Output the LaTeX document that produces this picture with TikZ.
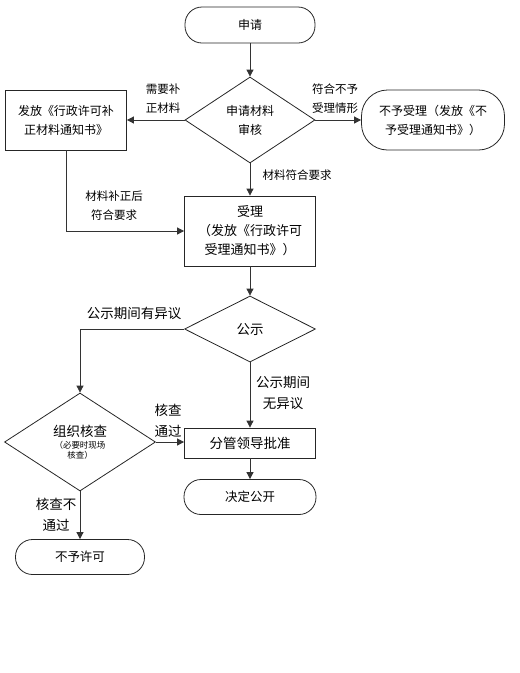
\documentclass[tikz,border=0pt]{standalone}
\usepackage{fontspec}
\setmainfont{Noto Sans CJK SC}
\usetikzlibrary{arrows.meta,shapes.geometric,positioning}

\newcommand{\xiaozi}{\fontsize{8.5}{10}\selectfont}
\newcommand{\dazi}{\fontsize{13.5}{21}\selectfont}

\tikzset{
  flow/.style={draw=black!80, line width=0.8pt, -{Triangle[length=7pt,width=7pt]}},
  kuang/.style={draw=black!85, line width=0.8pt, align=center, inner sep=1pt},
  yuan/.style={kuang, rounded corners=17pt},
  ling/.style={kuang, diamond, inner sep=0pt},
  zhu/.style={align=center, inner sep=0pt, font=\fontsize{11.5}{19}\selectfont},
  dazhu/.style={zhu, font=\dazi}
}

\begin{document}
\begin{tikzpicture}[x=1pt, y=-1pt, font=\fontsize{12}{19}\selectfont]
  \useasboundingbox (0,0) rectangle (520,673);
  % main column
  \node[yuan, minimum width=130pt, minimum height=36pt] (sq) at (250,25) {申请};
  \node[ling, minimum width=130pt, minimum height=86pt] (sh) at (250,120) {申请材料\\审核};
  \node[kuang, minimum width=121pt, minimum height=60pt] (bz) at (66,120) {发放《行政许可补\\正材料通知书》};
  \node[kuang, rounded corners=26pt, minimum width=143pt, minimum height=60pt] (bsl) at (433,120) {不予受理（发放《不\\予受理通知书》）};
  \node[kuang, minimum width=131pt, minimum height=70pt, font=\fontsize{13}{19}\selectfont] (sl) at (250,231) {受理\\（发放《行政许可\\受理通知书》）};
  \node[ling, minimum width=131pt, minimum height=66pt, font=\dazi] (gs) at (250,329) {公示};
  \node[ling, minimum width=151pt, minimum height=98pt, font=\dazi] (hc) at (80,442) {组织核查\\[-9pt]{\xiaozi（必要时现场}\\[-11pt]{\xiaozi 核查）}};
  \node[kuang, minimum width=131pt, minimum height=30pt, font=\dazi] (pz) at (250,443) {分管领导批准};
  \node[yuan, minimum width=132pt, minimum height=35pt, font=\fontsize{12.5}{19}\selectfont] (gk) at (250,497) {决定公开};
  \node[yuan, minimum width=129pt, minimum height=35pt, font=\fontsize{12.5}{19}\selectfont] (bxk) at (80,557) {不予许可};

  % connectors
  \draw[flow] (sq) -- (sh);
  \draw[flow] (sh.west) -- (bz.east);
  \draw[flow] (sh.east) -- (bsl.west);
  \draw[flow] (sh.south) -- (sl.north);
  \draw[flow] (bz.south) |- (sl.west);
  \draw[flow] (sl.south) -- (gs.north);
  \draw[flow] (gs.west) -| (hc.north);
  \draw[flow] (gs.south) -- (pz.north);
  \draw[flow] (hc.east) -- (pz.west |- hc.east);
  \draw[flow] (pz) -- (gk);
  \draw[flow] (hc.south) -- (bxk.north);

  % labels
  \node[zhu] (l1) at (163,99) {需要补\\正材料};
  \node[zhu] (l2) at (335,99) {符合不予\\受理情形};
  \node[zhu] (l3) at (297,175) {材料符合要求};
  \node[zhu] (l4) at (114,206) {材料补正后\\符合要求};
  \node[dazhu] (l5) at (134,313) {公示期间有异议};
  \node[dazhu] (l6) at (283,393) {公示期间\\无异议};
  \node[dazhu] (l7) at (168,421) {核查\\通过};
  \node[dazhu] (l8) at (56,515) {核查不\\通过};
\end{tikzpicture}
\end{document}
